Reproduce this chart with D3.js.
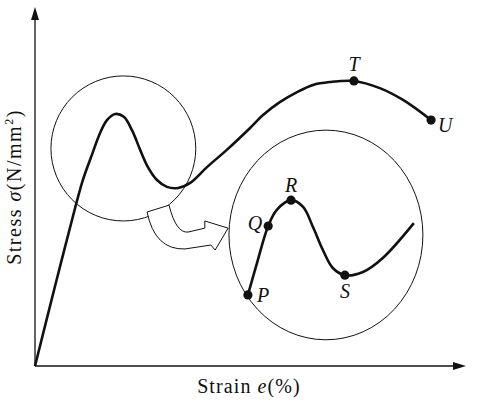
<!DOCTYPE html>
<html><head><meta charset="utf-8">
<script src="https://cdn.jsdelivr.net/npm/d3@7"></script>
<style>body{margin:0;background:#fff}svg{display:block}</style>
</head><body>
<svg id="c" width="485" height="403"></svg>
<script>
// Main stress-strain curve (arbitrary units 0..100)
const strain = [0, 4.6, 9.3, 11.1, 13.2, 15.1, 16.7, 18.6, 20.6, 22.5, 24.4, 26.2, 28.3, 30.6, 33.2, 36.0, 39.9, 44.5, 49.9, 52.9, 56.8, 60.8, 64.5, 68.4, 74.0, 80.0, 85.4, 91.9];
const stress = [0, 22.0, 44.0, 51.8, 58.8, 64.9, 68.5, 70.2, 69.4, 65.7, 60.2, 55.4, 51.8, 49.9, 49.6, 51.0, 55.4, 60.2, 66.3, 69.9, 73.5, 76.3, 78.3, 79.1, 79.4, 77.4, 74.1, 68.5];
// Magnified inset curve
const insetStrain = [49.4, 51.7, 54.1, 56.1, 59.4, 62.2, 64.5, 66.8, 69.1, 71.9, 76.1, 80.7, 87.9];
const insetStress = [19.8, 29.5, 39.0, 43.5, 46.2, 44.3, 38.7, 32.3, 27.3, 25.3, 26.2, 30.1, 39.8];
// Labelled points
const mainPoints = [{name:"T", x:74.0, y:79.4}, {name:"U", x:91.9, y:68.5}];
const insetPoints = [{name:"P", x:49.4, y:19.8}, {name:"Q", x:54.1, y:39.0}, {name:"R", x:59.4, y:46.2}, {name:"S", x:71.9, y:25.3}];
// Magnifier circles (center, radii in data units)
const circles = [{cx:20.5, cy:60.6, rx:16.8, ry:20.2}, {cx:67.5, cy:36.5, rx:22.5, ry:29.2}];
const xLabel = "Strain ";
const yLabel = "Stress ";

const svg = d3.select("#c");
const x = d3.scaleLinear().domain([0, 100]).range([35, 466]);
const y = d3.scaleLinear().domain([0, 100]).range([366, 7]);
const font = "'Liberation Serif', 'Times New Roman', serif";

// axes
svg.append("line").attr("x1", x(0)).attr("y1", y(0)).attr("x2", x(100) - 10).attr("y2", y(0))
  .attr("stroke", "#111").attr("stroke-width", 1.3);
svg.append("line").attr("x1", x(0)).attr("y1", y(0)).attr("x2", x(0)).attr("y2", y(100) + 10)
  .attr("stroke", "#111").attr("stroke-width", 1.3);
svg.append("path").attr("d", `M${x(100)},${y(0)} L${x(100)-13},${y(0)-4} L${x(100)-13},${y(0)+4} Z`).attr("fill", "#111");
svg.append("path").attr("d", `M${x(0)},${y(100)} L${x(0)-4},${y(100)+13} L${x(0)+4},${y(100)+13} Z`).attr("fill", "#111");

// circles
svg.selectAll("ellipse.mag").data(circles).join("ellipse").attr("class", "mag")
  .attr("cx", d => x(d.cx)).attr("cy", d => y(d.cy))
  .attr("rx", d => x(d.rx) - x(0)).attr("ry", d => y(0) - y(d.ry))
  .attr("fill", "none").attr("stroke", "#111").attr("stroke-width", 1);

// curves
const line = d3.line().x(d => x(d[0])).y(d => y(d[1])).curve(d3.curveCatmullRom.alpha(0.5));
svg.append("path").attr("d", line(d3.zip(strain, stress)))
  .attr("fill", "none").attr("stroke", "#111").attr("stroke-width", 2.6).attr("stroke-linejoin", "round");
svg.append("path").attr("d", line(d3.zip(insetStrain, insetStress)))
  .attr("fill", "none").attr("stroke", "#111").attr("stroke-width", 2.6).attr("stroke-linejoin", "round");

// hollow curved arrow
const p = d3.path();
p.moveTo(x(26.0), y(42.9));
p.quadraticCurveTo(x(27.8), y(32.3), x(34.8), y(32.6));
p.lineTo(x(40.8), y(33.7));
p.lineTo(x(41.8), y(32.3));
p.lineTo(x(44.8), y(38.4));
p.lineTo(x(39.4), y(40.4));
p.lineTo(x(39.4), y(38.4));
p.lineTo(x(35.5), y(37.3));
p.quadraticCurveTo(x(32.7), y(37.0), x(31.1), y(44.8));
p.closePath();
svg.append("path").attr("d", p.toString()).attr("fill", "#fff").attr("stroke", "#111").attr("stroke-width", 1).attr("stroke-linejoin", "miter");

// dots
const pts = mainPoints.concat(insetPoints);
svg.selectAll("circle.pt").data(pts).join("circle").attr("class", "pt")
  .attr("cx", d => x(d.x)).attr("cy", d => y(d.y)).attr("r", 4.6).attr("fill", "#111");

// point labels
const off = {T:[0,-10,"middle"], U:[7,12,"start"], P:[9,7,"start"], Q:[-6,4,"end"], R:[0,-8,"middle"], S:[0,23,"middle"]};
svg.selectAll("text.pl").data(pts).join("text").attr("class", "pl")
  .attr("x", d => x(d.x) + off[d.name][0]).attr("y", d => y(d.y) + off[d.name][1])
  .attr("text-anchor", d => off[d.name][2])
  .attr("font-family", font).attr("font-style", "italic").attr("font-size", 20).attr("fill", "#111")
  .text(d => d.name);

// axis titles
const xt = svg.append("text").attr("x", 249).attr("y", 393).attr("text-anchor", "middle")
  .attr("font-family", font).attr("font-size", 20).attr("letter-spacing", 1.1).attr("fill", "#111");
xt.append("tspan").text(xLabel);
xt.append("tspan").attr("font-style", "italic").text("e");
xt.append("tspan").text("(%)");

const yt = svg.append("text").attr("transform", "translate(21,187) rotate(-90)").attr("text-anchor", "middle")
  .attr("font-family", font).attr("font-size", 20).attr("letter-spacing", 1.5).attr("fill", "#111");
yt.append("tspan").text(yLabel);
yt.append("tspan").attr("font-style", "italic").text("σ");
yt.append("tspan").text("(N/mm");
yt.append("tspan").attr("font-size", 12).attr("dy", -8).text("2");
yt.append("tspan").attr("dy", 8).text(")");
</script>
</body></html>
